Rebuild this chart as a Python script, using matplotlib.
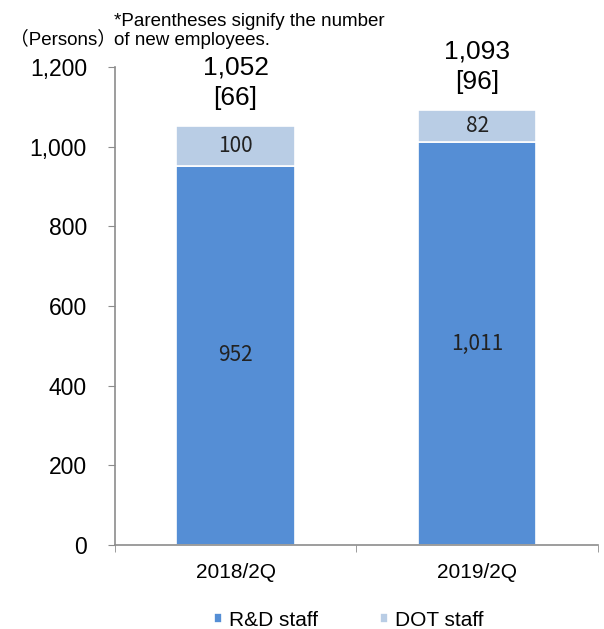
import matplotlib.pyplot as plt

# data
categories = ["2018/2Q", "2019/2Q"]
rd_staff = [952, 1011]
dot_staff = [100, 82]
new_employees = [66, 96]
y_ticks = [0, 200, 400, 600, 800, 1000, 1200]

rd_color = "#558ED5"
dot_color = "#B9CDE5"
grey = "#8C8C8C"

plt.rcParams["font.family"] = ["Liberation Sans", "Noto Sans CJK JP"]

fig = plt.figure(figsize=(6.04, 6.29), dpi=100)
ax = fig.add_axes([0.190, 0.1335, 0.800, 0.760])

x = list(range(len(categories)))
width = 0.49
b1 = ax.bar(x, rd_staff, width, color=rd_color, edgecolor="white", linewidth=1.2,
            label="R&D staff")
b2 = ax.bar(x, dot_staff, width, bottom=rd_staff, color=dot_color, edgecolor="white",
            linewidth=1.2, label="DOT staff")

# segment labels and totals
for i in x:
    ax.text(i, rd_staff[i] / 2, f"{rd_staff[i]:,}", ha="center", va="center",
            fontsize=15, color="#222222", family=["Noto Sans CJK JP"])
    ax.text(i, rd_staff[i] + dot_staff[i] / 2, f"{dot_staff[i]:,}", ha="center",
            va="center", fontsize=15, color="#222222", family=["Noto Sans CJK JP"])
    total = rd_staff[i] + dot_staff[i]
    ax.annotate(f"{total:,}", (i, total), xytext=(0, 42),
                textcoords="offset points", ha="center", va="center", fontsize=19)
    ax.annotate(f"[{new_employees[i]}]", (i, total), xytext=(0, 20),
                textcoords="offset points", ha="center", va="center", fontsize=19)

ax.set_xlim(-0.5, 1.5)
ax.set_ylim(0, 1200)
ax.set_yticks(y_ticks)
ax.set_yticklabels([f"{v:,}" for v in y_ticks], fontsize=16.5)
ax.set_xticks(x)
ax.set_xticklabels(categories, fontsize=15)
ax.set_xticks([-0.5, 0.5, 1.5], minor=True)
ax.tick_params(axis="x", which="major", length=0, pad=13)
ax.tick_params(axis="x", which="minor", length=5, color=grey, direction="out")
ax.tick_params(axis="y", length=5, color=grey, direction="out", pad=15)

for s in ["top", "right"]:
    ax.spines[s].set_visible(False)
for s in ["left", "bottom"]:
    ax.spines[s].set_color(grey)
    ax.spines[s].set_linewidth(1.2)

fig.text(0.017, 0.938, "（Persons）", fontsize=13.5, ha="left", va="center")
fig.text(0.189, 0.928, "*Parentheses signify the number\nof new employees.",
         fontsize=13.5, ha="left", va="baseline", linespacing=1.15)

leg = fig.legend(handles=[b1, b2], loc="center", bbox_to_anchor=(0.577, 0.0143),
                 ncol=2, frameon=False, fontsize=15, handlelength=0.4,
                 handleheight=0.4, handletextpad=0.3, columnspacing=3.0)

fig.savefig("out.png", dpi=100)
